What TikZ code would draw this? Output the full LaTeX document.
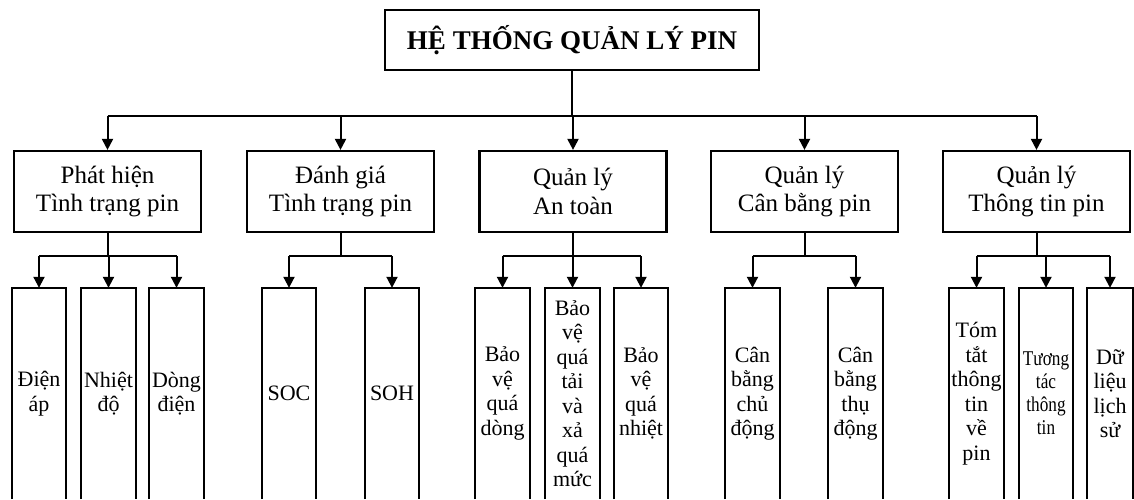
\documentclass[tikz,border=0pt]{standalone}
\usepackage{fontspec}
\setmainfont{Liberation Serif}
\newfontfamily\condfont[FakeStretch=0.82]{Liberation Serif}
\usetikzlibrary{arrows.meta}
\tikzset{
  x=1pt, y=-1pt,
  boxline/.style={line width=2.2pt, black},
  conn/.style={line width=2pt, black},
  arr/.style={conn, -{Triangle[length=11pt,width=11pt]}},
  topbox/.style={draw, boxline, minimum width=374pt, minimum height=60pt, inner sep=0pt,
    font=\fontsize{27}{31}\selectfont\bfseries},
  midbox/.style={draw, boxline, minimum width=187pt, minimum height=81pt, inner sep=0pt,
    align=center, font=\fontsize{25}{28.5}\selectfont},
  leaf/.style={minimum width=54pt, minimum height=211pt, inner sep=0pt,
    align=center, font=\fontsize{22}{24.5}\selectfont},
}
\begin{document}
\begin{tikzpicture}
\useasboundingbox (0,0) rectangle (1134,499);
\fill[white] (0,0) rectangle (1134,499);
\clip (0,0) rectangle (1134,499);

% top
\node[topbox] (top) at (572,40) {HỆ THỐNG QUẢN LÝ PIN};

% level 2
\node[midbox] (b1) at (107.5,191.5) {Phát hiện\\Tình trạng pin};
\node[midbox] (b2) at (340.5,191.5) {Đánh giá\\Tình trạng pin};
\node[midbox] (b3) at (573,191.5) {Quản lý\\An toàn};
\node[midbox] (b4) at (804.5,191.5) {Quản lý\\Cân bằng pin};
\node[midbox] (b5) at (1036.5,191.5) {Quản lý\\Thông tin pin};

% level 3
\node[leaf] (c11) at (39,393.5) {Điện\\áp};
\node[leaf] (c12) at (108.5,393.5) {Nhiệt\\độ};
\node[leaf] (c13) at (176.5,393.5) {Dòng\\điện};
\node[leaf] (c21) at (289,393.5) {SOC};
\node[leaf] (c22) at (392,393.5) {SOH};
\node[leaf] (c31) at (502.5,393.5) {Bảo\\vệ\\quá\\dòng};
\node[leaf] (c32) at (572.5,393.5) {Bảo\\vệ\\quá\\tải\\và\\xả\\quá\\mức};
\node[leaf] (c33) at (641,393.5) {Bảo\\vệ\\quá\\nhiệt};
\node[leaf] (c41) at (752.5,393.5) {Cân\\bằng\\chủ\\động};
\node[leaf] (c42) at (855.5,393.5) {Cân\\bằng\\thụ\\động};
\node[leaf] (c51) at (976.5,393.5) {Tóm\\tắt\\thông\\tin\\về\\pin};
\node[leaf, font=\condfont\fontsize{21}{23}\selectfont] (c52) at (1046,393.5) {Tương\\tác\\thông\\tin};
\node[leaf, minimum width=46pt] (c53) at (1110,393.5) {Dữ\\liệu\\lịch\\sử};

\foreach \n in {c11,c12,c13,c21,c22,c31,c32,c33,c41,c42,c51,c52,c53}
  \draw[boxline] (\n.south west) -- (\n.north west) -- (\n.north east) -- (\n.south east);

% connectors top -> level 2
\coordinate (bus) at (572,116);
\draw[conn] (top.south) -- (top.south |- bus);
\draw[conn] (b1.north |- bus) -- (b5.north |- bus);
\foreach \n in {b1,b2,b3,b4,b5}
  \draw[arr] (\n.north |- bus) -- (\n.north);

% level 2 -> level 3
\coordinate (bus2) at (0,256);
\draw[conn] (b1.south) -- (b1.south |- bus2);
\draw[conn] (c11.north |- bus2) -- (c13.north |- bus2);
\foreach \n in {c11,c12,c13} \draw[arr] (\n.north |- bus2) -- (\n.north);

\draw[conn] (b2.south) -- (b2.south |- bus2);
\draw[conn] (c21.north |- bus2) -- (c22.north |- bus2);
\foreach \n in {c21,c22} \draw[arr] (\n.north |- bus2) -- (\n.north);

\draw[conn] (b3.south) -- (b3.south |- bus2);
\draw[conn] (c31.north |- bus2) -- (c33.north |- bus2);
\foreach \n in {c31,c32,c33} \draw[arr] (\n.north |- bus2) -- (\n.north);

\draw[conn] (b4.south) -- (b4.south |- bus2);
\draw[conn] (c41.north |- bus2) -- (c42.north |- bus2);
\foreach \n in {c41,c42} \draw[arr] (\n.north |- bus2) -- (\n.north);

\draw[conn] (b5.south) -- (b5.south |- bus2);
\draw[conn] (c51.north |- bus2) -- (c53.north |- bus2);
\foreach \n in {c51,c52,c53} \draw[arr] (\n.north |- bus2) -- (\n.north);
\end{tikzpicture}
\end{document}
